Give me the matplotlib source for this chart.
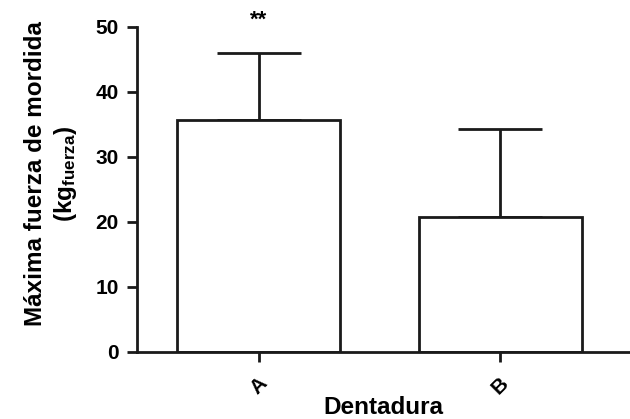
import numpy as np
from matplotlib import pyplot as plt

plt.rcParams['font.family'] = ['Liberation Sans', 'DejaVu Sans']
plt.rcParams['mathtext.fontset'] = 'custom'
plt.rcParams['mathtext.rm'] = 'Liberation Sans:bold'
plt.rcParams['mathtext.bf'] = 'Liberation Sans:bold'
plt.rcParams['mathtext.default'] = 'bf'

categories = ['A', 'B']
means = [35.7, 20.8]
errors = [10.3, 13.5]
yticks = [0, 10, 20, 30, 40, 50]

fig = plt.figure(figsize=(6.3, 4.19), dpi=100)
ax = fig.add_axes([0.2175, 0.160, 0.7825, 0.7756])

x = np.arange(len(categories))
ax.bar(x, means, width=0.675, color='white', edgecolor='#1a1a1a', linewidth=2, zorder=2)
ax.errorbar(x, means, yerr=[np.zeros(len(means)), errors], fmt='none',
            ecolor='#1a1a1a', elinewidth=2, capsize=30, capthick=2, zorder=1)

ax.text(0, 51.0, '**', ha='center', va='center', fontsize=16, fontweight='bold', clip_on=False)

ax.set_xlim(-0.503, 1.538)
ax.set_ylim(0, 50)
ax.set_yticks(yticks)
ax.set_xticks(x)
ax.set_xticklabels(categories, rotation=45, fontsize=15, fontweight='bold')
ax.set_yticklabels([str(t) for t in yticks], fontsize=15, fontweight='bold')

for side in ['top', 'right']:
    ax.spines[side].set_visible(False)
for side in ['left', 'bottom']:
    ax.spines[side].set_linewidth(2)
    ax.spines[side].set_color('#1a1a1a')
ax.tick_params(axis='both', width=2, length=7, color='#1a1a1a')
ax.tick_params(axis='y', pad=6)
ax.tick_params(axis='x', pad=9)

ax.set_xlabel('Dentadura', fontsize=17.5, fontweight='bold', labelpad=-2)
ax.set_ylabel('Máxima fuerza de mordida\n(kg$_{\\mathbf{fuerza}}$)', fontsize=17.5,
              fontweight='bold', labelpad=12, linespacing=1.25)
ax.yaxis.label.set_y(0.548)

fig.savefig('out.png', dpi=100)
